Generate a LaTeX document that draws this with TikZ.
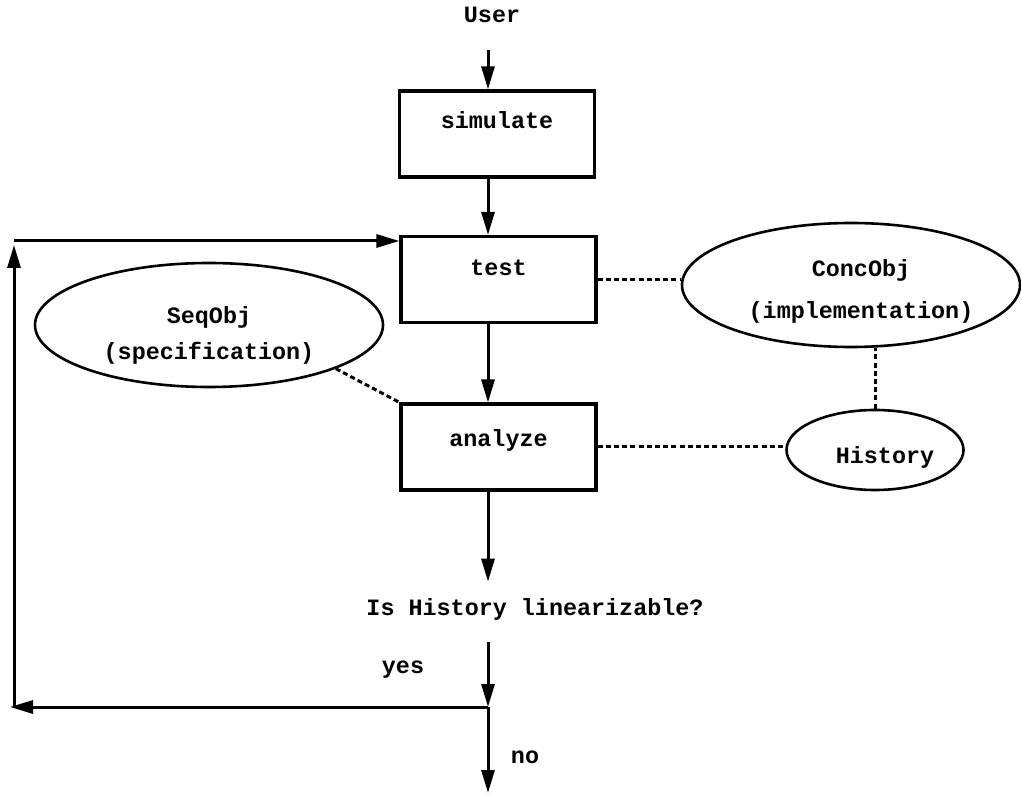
\documentclass[tikz,border=0pt]{standalone}
\usepackage{fontspec}
\setmonofont{Liberation Mono}
\usetikzlibrary{arrows.meta,shapes.geometric}
\begin{document}
\begin{tikzpicture}[x=0.5pt,y=-0.5pt,
  txt/.style={font=\fontsize{11.7}{18}\selectfont\ttfamily\bfseries, inner sep=0pt},
  txtwide/.style={font=\fontsize{11.7}{21}\selectfont\ttfamily\bfseries, inner sep=0pt},
  box/.style={draw, line width=1.6pt, minimum width=97.5pt, minimum height=43pt, inner sep=0pt},
  oval/.style={draw, ellipse, line width=1.3pt, inner sep=0pt},
  arr/.style={line width=1.5pt, -{Triangle[length=11.5pt,width=6.5pt]}},
  dots/.style={line width=1.5pt, dash pattern=on 2.5pt off 1.6pt},
]
\useasboundingbox (0,0) rectangle (1021,795);

% nodes
\node[txt, anchor=base, text height=8pt, text depth=13.5pt] (user) at (492,23) {User};
\node[box, label={[txt,yshift=7pt]center:simulate}] (sim) at (497,134) {};
\node[box, label={[txt,yshift=6pt]center:test}] (test) at (498.5,279.5) {};
\node[box, label={[txt,yshift=3.5pt]center:analyze}] (analyze) at (498.5,447) {};
\node[oval, minimum width=174pt, minimum height=62pt,
      label={[txt, align=center, yshift=-5pt]center:SeqObj\\(specification)}] (seq) at (209,325) {};
\node[oval, minimum width=169pt, minimum height=62pt,
      label={[txtwide, align=center, xshift=5pt, yshift=-3pt]center:ConcObj\\(implementation)}] (conc) at (851,285) {};
\node[oval, minimum width=88.5pt, minimum height=40pt,
      label={[txt, xshift=5pt, yshift=-3.5pt]center:History}] (hist) at (875,450) {};
\node[txt, anchor=base, text height=16.5pt, text depth=13.5pt] (q) at (535,615) {Is History linearizable?};
\node[txt] (yes) at (403,670) {yes};
\node[txt] (no) at (525,757) {no};

% helper coordinates
\coordinate (ax) at (488,0);
\coordinate (j) at (488,707);
\coordinate (out) at (488,793);
\coordinate (lb) at (14,707);
\coordinate (lt) at (14,241);

% main flow
\draw[arr] (user.south -| ax) -- (sim.north -| ax);
\draw[arr] (sim.south -| ax) -- (test.north -| ax);
\draw[arr] (test.south -| ax) -- (analyze.north -| ax);
\draw[arr] (analyze.south -| ax) -- (q.north -| ax);
\draw[arr] (q.south -| ax) -- (j);
\draw[arr] (j) -- (out);
% loop back
\draw[arr] (j) -- ([xshift=-2pt]lb);
\draw[arr] (lb) -- ([yshift=-2pt]lt);
\draw[arr] (lt) -- (lt -| test.west);

% dotted associations
\draw[dots] (test.east) -- (test.east -| conc.west);
\draw[dots] (analyze.east) -- (analyze.east -| hist.west);
\draw[dots] (hist.north) -- (hist.north |- conc.south);
\draw[dots] (seq.-19) -- (analyze.north west);
\end{tikzpicture}
\end{document}
